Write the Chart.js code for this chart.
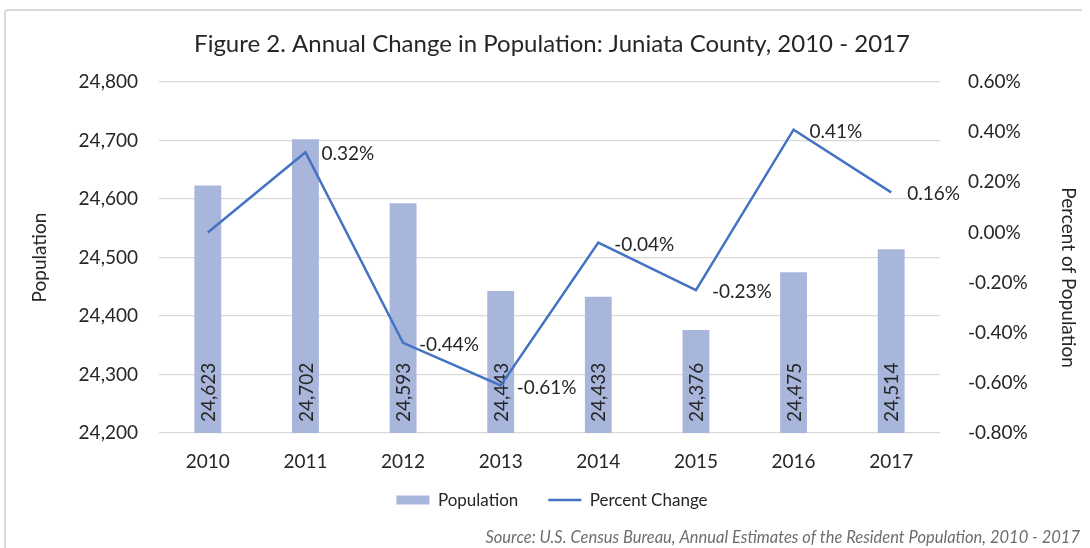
<!DOCTYPE html>
<html>
<head>
<meta charset="utf-8">
<script src="https://cdn.jsdelivr.net/npm/chart.js@4.4.1/dist/chart.umd.min.js"></script>
<style>
  html, body { margin: 0; padding: 0; background: #ffffff; }
  #frame { position: absolute; left: 4px; top: 9px; width: 1076px; height: 600px;
           border-top: 2px solid #d9d9d9; border-left: 2px solid #d9d9d9; border-top-left-radius: 4px; }
  #wrap { position: absolute; left: 0; top: 0; width: 1090px; height: 548px; }
</style>
</head>
<body>
<div id="frame"></div>
<div id="wrap"><canvas id="c" width="1090" height="548"></canvas></div>
<script>
const years = ['2010', '2011', '2012', '2013', '2014', '2015', '2016', '2017'];
const population = [24623, 24702, 24593, 24443, 24433, 24376, 24475, 24514];
const percentChange = [0.00, 0.32, -0.44, -0.61, -0.04, -0.23, 0.41, 0.16];
const percentLabels = [null, '0.32%', '-0.44%', '-0.61%', '-0.04%', '-0.23%', '0.41%', '0.16%'];
const leftTicks = { min: 24200, max: 24800, step: 100 };
const rightTicks = { min: -0.8, max: 0.6, step: 0.2 };

const FONT = 'Lato';
const TXT = '#262626';
const BAR = '#A9B6DC';
const LINE = '#4472C4';

function drawBarLabels(chart) {
  const ctx = chart.ctx;
  const meta = chart.getDatasetMeta(0);
  const yScale = chart.scales.y;
  const basePx = yScale.getPixelForValue(yScale.min);
  ctx.save();
  ctx.font = '19px ' + FONT;
  ctx.fillStyle = TXT;
  ctx.textAlign = 'left';
  ctx.textBaseline = 'middle';
  meta.data.forEach((el, i) => {
    ctx.save();
    ctx.translate(el.x, basePx - 11);
    ctx.rotate(-Math.PI / 2);
    ctx.fillText(population[i].toLocaleString('en-US'), 0, 1);
    ctx.restore();
  });
  ctx.restore();
}

const labelPlugin = {
  id: 'valueLabels',
  beforeDatasetsDraw(chart) { chart.$barLabelsDone = false; },
  afterDatasetDraw(chart, args) {
    const idx = args && args.meta ? args.meta.index : (args ? args.index : -1);
    if (idx === 0) { drawBarLabels(chart); chart.$barLabelsDone = true; }
  },
  afterDatasetsDraw(chart) {
    if (!chart.$barLabelsDone) drawBarLabels(chart);
    const ctx = chart.ctx;
    const meta = chart.getDatasetMeta(1);
    ctx.save();
    ctx.font = '19px ' + FONT;
    ctx.fillStyle = TXT;
    ctx.textAlign = 'left';
    ctx.textBaseline = 'middle';
    meta.data.forEach((el, i) => {
      if (percentLabels[i]) ctx.fillText(percentLabels[i], el.x + 16, el.y + 2);
    });
    ctx.restore();
  }
};

// small layout tweaks: right-axis title placement, unclipped category labels
const layoutTweaks = {
  id: 'layoutTweaks',
  afterLayout(chart) {
    const s = chart.scales.y1;
    if (s && !s.__patched) {
      const orig = s.drawTitle;
      s.drawTitle = function () {
        this.ctx.save();
        this.ctx.translate(0, 20);
        orig.apply(this, arguments);
        this.ctx.restore();
      };
      s.__patched = true;
    }
    const x = chart.scales.x;
    if (x && !x.__patched) {
      x._computeLabelArea = function () { return undefined; };
      x.__patched = true;
    }
  }
};

new Chart(document.getElementById('c'), {
  data: {
    labels: years,
    datasets: [
      {
        type: 'bar',
        label: 'Population',
        data: population,
        yAxisID: 'y',
        backgroundColor: BAR,
        borderWidth: 0,
        barPercentage: 0.55,
        categoryPercentage: 0.5,
        order: 1
      },
      {
        type: 'line',
        label: 'Percent Change',
        data: percentChange,
        yAxisID: 'y1',
        borderColor: LINE,
        backgroundColor: LINE,
        borderWidth: 2.5,
        pointRadius: 0,
        pointHoverRadius: 0,
        tension: 0,
        order: 0
      }
    ]
  },
  options: {
    responsive: false,
    animation: false,
    events: [],
    layout: { padding: { left: 24, right: 10, top: 0, bottom: 0 } },
    plugins: {
      title: {
        display: true,
        text: 'Figure 2. Annual Change in Population: Juniata County, 2010 - 2017',
        color: TXT,
        font: { family: FONT, size: 24, weight: 'normal', lineHeight: 1.2 },
        padding: { top: 29.6, bottom: 23.6 }
      },
      subtitle: {
        display: true,
        position: 'bottom',
        align: 'end',
        text: 'Source: U.S. Census Bureau, Annual Estimates of the Resident Population, 2010 - 2017',
        color: '#6e6e6e',
        font: { family: FONT, size: 16.5, style: 'italic', lineHeight: 1.2 },
        padding: { top: 9.6, bottom: 0 }
      },
      legend: {
        display: true,
        position: 'bottom',
        labels: {
          color: TXT,
          font: { family: FONT, size: 17 },
          usePointStyle: true,
          pointStyleWidth: 33,
          boxHeight: 9,
          padding: 30,
          sort: (a, b) => a.datasetIndex - b.datasetIndex,
          generateLabels(chart) {
            const items = Chart.defaults.plugins.legend.labels.generateLabels(chart);
            items.forEach(it => {
              if (it.datasetIndex === 0) {
                it.pointStyle = 'rect';
                it.fillStyle = BAR;
                it.strokeStyle = BAR;
                it.lineWidth = 0;
              } else {
                it.pointStyle = 'line';
                it.strokeStyle = LINE;
                it.lineWidth = 2.5;
              }
            });
            return items;
          }
        }
      },
      tooltip: { enabled: false }
    },
    scales: {
      x: {
        grid: { display: false, drawTicks: false },
        border: { display: false },
        ticks: { color: TXT, font: { family: FONT, size: 19 }, padding: 17 },
        afterFit(s) { s.height = 28.5; }
      },
      y: {
        position: 'left',
        min: leftTicks.min,
        max: leftTicks.max,
        grid: { color: '#d9d9d9', lineWidth: 1.3, drawTicks: false },
        border: { display: false },
        ticks: {
          stepSize: leftTicks.step,
          color: TXT,
          font: { family: FONT, size: 19 },
          padding: 21,
          callback: v => Number(v).toLocaleString('en-US')
        },
        title: {
          display: true,
          text: 'Population',
          color: TXT,
          font: { family: FONT, size: 19, lineHeight: 1.2 },
          padding: { top: 4.6, bottom: 0 }
        },
        afterFit(s) { s.width = 135; }
      },
      y1: {
        position: 'right',
        min: rightTicks.min,
        max: rightTicks.max,
        grid: { drawOnChartArea: false, drawTicks: false, display: false },
        border: { display: false },
        ticks: {
          stepSize: rightTicks.step,
          color: TXT,
          font: { family: FONT, size: 19 },
          padding: 28,
          callback: v => (Math.abs(v) < 1e-9 ? 0 : v).toFixed(2) + '%'
        },
        title: {
          display: true,
          text: 'Percent of Population',
          color: TXT,
          font: { family: FONT, size: 19, lineHeight: 1.2 },
          padding: { top: 0.6, bottom: 0 }
        },
        afterFit(s) { s.width = 140; }
      }
    }
  },
  plugins: [labelPlugin, layoutTweaks]
});
</script>
</body>
</html>
